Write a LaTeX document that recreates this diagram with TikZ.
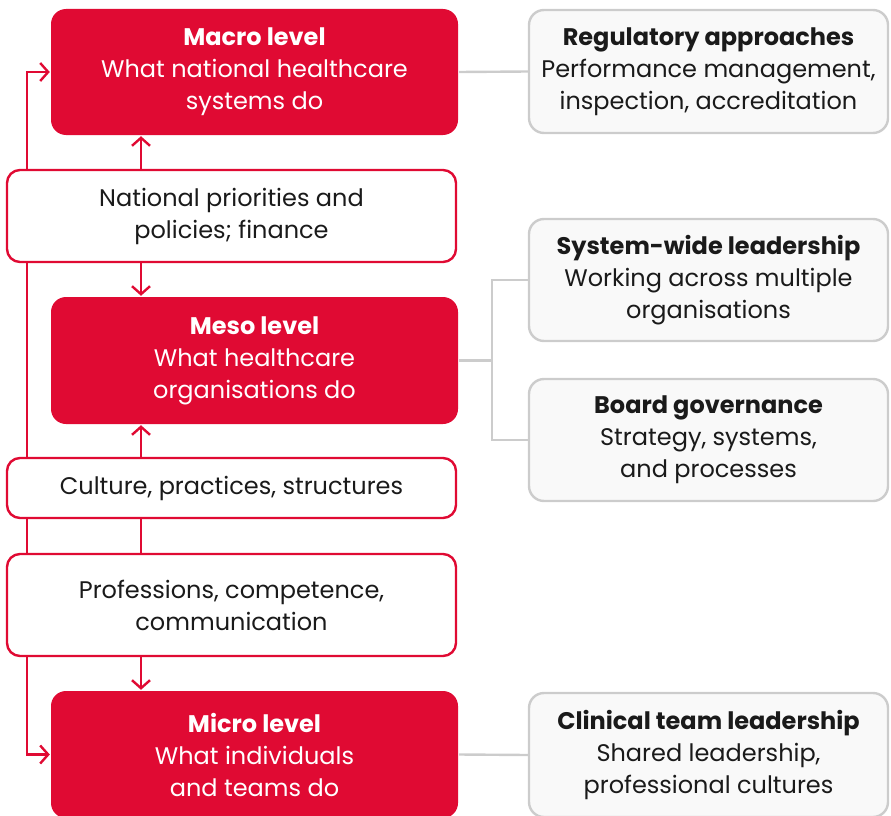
\documentclass[tikz,border=0pt]{standalone}
\usepackage{fontspec}
\setmainfont{Poppins}
\usetikzlibrary{positioning}
\usetikzlibrary{backgrounds}
\usetikzlibrary{arrows.meta}
\definecolor{levelred}{HTML}{E00A33}
\definecolor{leadfill}{HTML}{F9F9F9}
\definecolor{leadline}{HTML}{CCCCCC}
\definecolor{bodytext}{HTML}{1A1A1A}
\tikzset{every picture/.style={line width=2.4pt}}

\begin{document}
\begin{tikzpicture}[x=1pt,y=-1pt,
  lvl/.style={fill=levelred, text=white, rounded corners=15pt, inner sep=0pt, minimum width=407pt, align=center, font=\fontsize{24}{32}\selectfont},
  factor/.style={draw=levelred, line width=2.4pt, fill=white, text=bodytext, rounded corners=13pt, inner sep=0pt, minimum width=449pt, align=center, font=\fontsize{24}{32}\selectfont},
  lead/.style={draw=leadline, line width=2.4pt, fill=leadfill, text=bodytext, rounded corners=15pt, inner sep=0pt, minimum width=359pt, align=center, font=\fontsize{24}{32}\selectfont},
  redlink/.style={draw=levelred, line width=2.4pt},
  redarrow/.style={redlink, -{Straight Barb[length=8pt,width=18pt,line width=2.4pt]}},
  greylink/.style={draw=leadline, line width=2.4pt}]
\useasboundingbox (0,0) rectangle (891,816);
\coordinate (mid) at (141,0);
\coordinate (side) at (27,0);
\coordinate (fork) at (492,0);

% levels
\node (macro) at (254.5,72) [lvl, minimum height=126pt] {\textbf{Macro level}\\What national healthcare\\systems do};
\node (meso) at (254.5,360.5) [lvl, minimum height=127pt] {\textbf{Meso level}\\What healthcare\\organisations do};
\node (micro) at (254.5,754.5) [lvl, minimum height=127pt] {\textbf{Micro level}\\What individuals\\and teams do};

% factors between levels
\node (policy) at (231.5,216) [factor, minimum height=92pt] {National priorities and\\policies; finance};
\node (culture) at (231.5,488) [factor, minimum height=60pt] {Culture, practices, structures};
\node (prof) at (231.5,605) [factor, minimum height=102pt] {Professions, competence,\\communication};

% leadership approaches
\node (reg) at (708.5,71.5) [lead, minimum height=123pt] {\textbf{Regulatory approaches}\\Performance management,\\inspection, accreditation};
\node (sys) at (708.5,280) [lead, minimum height=122pt] {\textbf{System-wide leadership}\\Working across multiple\\organisations};
\node (board) at (708.5,440) [lead, minimum height=122pt] {\textbf{Board governance}\\Strategy, systems,\\and processes};
\node (clin) at (708.5,755) [lead, minimum height=124pt] {\textbf{Clinical team leadership}\\Shared leadership,\\professional cultures};

% red connectors
\draw[redarrow] (policy.north -| mid) -- (macro.south -| mid);
\draw[redarrow] (policy.south -| mid) -- (meso.north -| mid);
\draw[redarrow] (culture.north -| mid) -- (meso.south -| mid);
\draw[redlink] (culture.south -| mid) -- (prof.north -| mid);
\draw[redarrow] (prof.south -| mid) -- (micro.north -| mid);
\begin{scope}[on background layer]
\draw[redarrow, {Straight Barb[length=8pt,width=18pt,line width=2.4pt]}-{Straight Barb[length=8pt,width=18pt,line width=2.4pt]}] (macro.west) -- (macro.west -| side) -- (micro.west -| side) -- (micro.west);
\end{scope}

% grey connectors
\draw[greylink] (macro.east) -- (reg.west);
\draw[greylink] (meso.east) -- (meso.east -| fork);
\draw[greylink] (sys.west) -- (sys.west -| fork) -- (board.west -| fork) -- (board.west);
\draw[greylink] (micro.east) -- (clin.west);
\end{tikzpicture}
\end{document}
